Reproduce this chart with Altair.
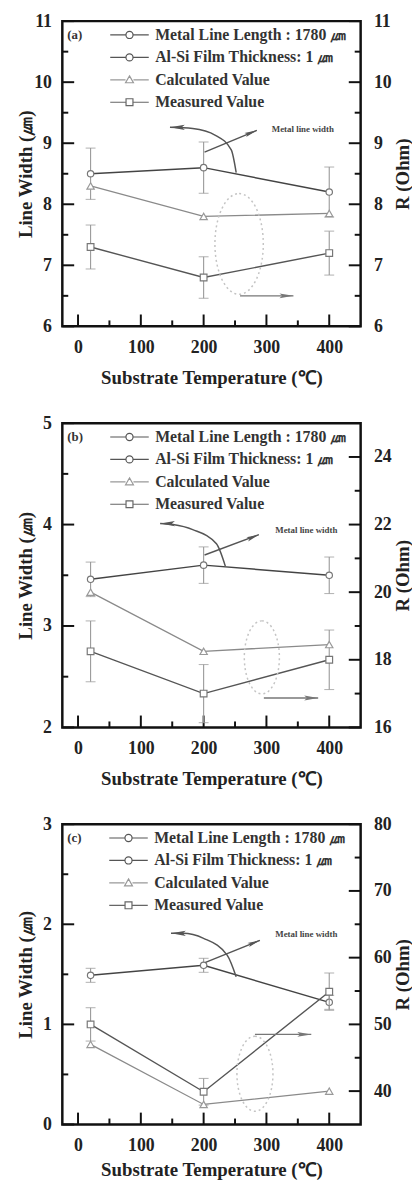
import altair as alt
import pandas as pd

# ---------------- data ----------------
temps = [20, 200, 400]

a_width = [8.5, 8.6, 8.2]
a_width_err = [0.42, 0.42, 0.41]
a_calc = [8.3, 7.8, 7.85]
a_meas = [7.3, 6.8, 7.2]
a_meas_err = [0.36, 0.34, 0.36]

b_width = [3.46, 3.6, 3.5]
b_width_err = [0.17, 0.18, 0.18]
b_calc = [20.0, 18.25, 18.45]
b_meas = [18.25, 17.0, 18.0]
b_meas_err = [0.9, 0.86, 0.88]

c_width = [1.49, 1.59, 1.22]
c_width_err = [0.07, 0.07, 0.07]
c_calc = [47.0, 38.0, 40.0]
c_meas = [50.0, 39.9, 54.9]
c_meas_err = [2.5, 2.0, 2.8]

legend_labels = ["Metal Line Length : 1780 ㎛", "Al-Si Film Thickness: 1 ㎛",
                 "Calculated Value", "Measured Value"]
panel_tags = ["(a)", "(b)", "(c)"]
note_text = "Metal line width"
x_title = "Substrate Temperature (℃)"
left_title = "Line Width (㎛)"
right_title = "R (Ohm)"

x_domain = [-25, 450]
x_major = [0, 100, 200, 300, 400]
x_minor = [50, 150, 250, 350]

a_left_domain = [6, 11]
a_left_major = [6, 7, 8, 9, 10, 11]
a_left_minor = [6.5, 7.5, 8.5, 9.5, 10.5]
a_right_domain = [6, 11]
a_right_major = [6, 7, 8, 9, 10, 11]
a_right_minor = [6.5, 7.5, 8.5, 9.5, 10.5]

b_left_domain = [2, 5]
b_left_major = [2, 3, 4, 5]
b_left_minor = [2.5, 3.5, 4.5]
b_right_domain = [16, 25]
b_right_major = [16, 18, 20, 22, 24]
b_right_minor = [17, 19, 21, 23]

c_left_domain = [0, 3]
c_left_major = [0, 1, 2, 3]
c_left_minor = [0.5, 1.5, 2.5]
c_right_domain = [35, 80]
c_right_major = [40, 50, 60, 70, 80]
c_right_minor = [45, 55, 65, 75]

# annotation positions (data units)
a_curve_x = [251.8, 244.0, 218.8, 182.6, 146.4]
a_curve_y = [8.52, 8.89, 9.13, 9.24, 9.26]
a_pointer = [201.5, 8.855, 284.8, 9.21]
a_note = [358, 9.24]
a_ellipse = [256.5, 7.35]
a_rarrow = [258, 343, 6.5]

b_curve_x = [234.5, 220.4, 182.6, 151.2, 130.7]
b_curve_y = [3.59, 3.81, 3.95, 4.0, 4.01]
b_pointer = [201.5, 3.70, 288, 3.90]
b_note = [363.5, 3.95]
b_ellipse = [292.7, 18.07]
b_rarrow = [295.9, 382.4, 16.87]

c_curve_x = [251.8, 237.7, 199.9, 166.9, 148.0]
c_curve_y = [1.476, 1.69, 1.86, 1.91, 1.91]
c_pointer = [203, 1.62, 289.6, 1.84]
c_note = [363.5, 1.90]
c_ellipse = [281.7, 42.6]
c_rarrow = [281.7, 371.4, 48.5]

# ---------------- styling ----------------
FONT = "Liberation Serif"
W = 302
ARROW = "M0,0L0.35,2L0,1.6L-0.35,2Z"
ELLIPSE = "M0,-1A0.48,1,0,1,1,0,1A0.48,1,0,1,1,0,-1Z"
legend_paths = [
    "M-1.95,0L-0.36,0M0.36,0L1.95,0M0.36,0A0.36,0.36,0,1,1,-0.36,0A0.36,0.36,0,1,1,0.36,0Z",
    "M-1.95,0L-0.36,0M0.36,0L1.95,0M0.36,0A0.36,0.36,0,1,1,-0.36,0A0.36,0.36,0,1,1,0.36,0Z",
    "M-1.95,0L-0.4,0M0.4,0L1.95,0M0,-0.4L0.4,0.3L-0.4,0.3Z",
    "M-1.95,0L-0.35,0M0.35,0L1.95,0M-0.35,-0.35L0.35,-0.35L0.35,0.35L-0.35,0.35Z",
]
legend_colors = ["#555555", "#555555", "#999999", "#666666"]


def build_panel(tag, H, ldom, lmaj, lmin, rdom, rmaj, rmin,
                wv, we, cv, mv, me, cx, cy, ptr, note, ell, ell_size, rar, xtpad):
    xs = alt.Scale(domain=x_domain, nice=False, zero=False)
    ls = alt.Scale(domain=ldom, nice=False, zero=False)
    rs = alt.Scale(domain=rdom, nice=False, zero=False)

    x_axis = alt.Axis(values=x_major, title=x_title, format="d", ticks=False,
                      domain=False, grid=False, labelPadding=12, titlePadding=xtpad,
                      labelFontSize=18, titleFontSize=19)
    left_axis = alt.Axis(values=lmaj, title=left_title, orient="left", format="d",
                         ticks=False, domain=False, grid=False, labelPadding=11,
                         minExtent=27, maxExtent=27, titlePadding=0,
                         labelFontSize=18, titleFontSize=19)
    right_axis = alt.Axis(values=rmaj, title=right_title, orient="right", format="d",
                          ticks=False, domain=False, grid=False, labelPadding=13,
                          minExtent=31, maxExtent=31, titlePadding=2,
                          titleAngle=270, titleBaseline="top",
                          labelFontSize=18, titleFontSize=19)

    def X(f):
        return alt.X(f, type="quantitative", scale=xs, axis=x_axis)

    def YL(f):
        return alt.Y(f, type="quantitative", scale=ls, axis=left_axis)

    def YR(f):
        return alt.Y(f, type="quantitative", scale=rs, axis=right_axis)

    # ---- left (line width) group ----
    lt1 = alt.Chart(pd.DataFrame({"v": lmaj})).mark_rule(color="#111", strokeWidth=2).encode(
        y=YL("v"), x=alt.value(0), x2=alt.value(12))
    lt2 = alt.Chart(pd.DataFrame({"v": lmin})).mark_rule(color="#111", strokeWidth=2).encode(
        y=YL("v"), x=alt.value(0), x2=alt.value(6))
    bt1 = alt.Chart(pd.DataFrame({"v": x_major})).mark_rule(color="#111", strokeWidth=2).encode(
        x=X("v"), y=alt.value(H), y2=alt.value(H - 12))
    bt2 = alt.Chart(pd.DataFrame({"v": x_minor})).mark_rule(color="#111", strokeWidth=2).encode(
        x=X("v"), y=alt.value(H), y2=alt.value(H - 6))

    dw = pd.DataFrame({"t": temps, "v": wv,
                       "lo": [v - e for v, e in zip(wv, we)],
                       "hi": [v + e for v, e in zip(wv, we)]})
    w_err = alt.Chart(dw).mark_rule(color="#999", strokeWidth=1.1).encode(
        x=X("t"), y=YL("lo"), y2="hi:Q")
    w_cap1 = alt.Chart(dw).mark_tick(orient="horizontal", size=10, thickness=1.1, color="#999").encode(
        x=X("t"), y=YL("lo"))
    w_cap2 = alt.Chart(dw).mark_tick(orient="horizontal", size=10, thickness=1.1, color="#999").encode(
        x=X("t"), y=YL("hi"))
    w_line = alt.Chart(dw).mark_line(color="#444", strokeWidth=1.5).encode(x=X("t"), y=YL("v"))
    w_pts = alt.Chart(dw).mark_point(shape="circle", size=42, filled=True, fill="white",
                                     stroke="#777", strokeWidth=1.2, opacity=1).encode(
        x=X("t"), y=YL("v"))

    dcurve = pd.DataFrame({"x": cx, "y": cy})
    curve = alt.Chart(dcurve).mark_line(color="#555", strokeWidth=1.5, interpolate="monotone").encode(
        x=X("x"), y=YL("y"))
    curve_head = alt.Chart(pd.DataFrame({"x": [cx[-1]], "y": [cy[-1]]})).mark_point(
        shape=ARROW, size=225, filled=True, color="#555", opacity=1, angle=270).encode(
        x=X("x"), y=YL("y"))
    dptr = pd.DataFrame({"x0": [ptr[0]], "y0": [ptr[1]], "x1": [ptr[2]], "y1": [ptr[3]]})
    pointer = alt.Chart(dptr).mark_rule(color="#555", strokeWidth=1.4).encode(
        x=X("x0"), y=YL("y0"), x2="x1:Q", y2="y1:Q")
    pointer_head = alt.Chart(dptr).mark_point(
        shape=ARROW, size=160, filled=True, color="#555", opacity=1, angle=68).encode(
        x=X("x1"), y=YL("y1"))
    note_mark = alt.Chart(pd.DataFrame({"x": [note[0]], "y": [note[1]], "s": [note_text]})).mark_text(
        font=FONT, fontWeight="bold", fontSize=9, color="#444").encode(
        x=X("x"), y=YL("y"), text="s:N")

    leg = alt.Legend(title=tag, orient="none", legendX=5, legendY=3, titleOrient="left",
                     titleAnchor="start", titleBaseline="line-top", titleLineHeight=23,
                     titleFont=FONT, titleFontSize=13, titleFontWeight="bold", titleColor="#333",
                     titlePadding=36, labelFont=FONT, labelFontSize=16, labelFontWeight="bold",
                     labelColor="#333", labelLimit=400, labelOffset=15, symbolSize=400,
                     symbolStrokeWidth=1.2, symbolFillColor="white", symbolOpacity=1,
                     rowPadding=3.7, padding=0)
    legend_layer = alt.Chart(pd.DataFrame({"entry": legend_labels})).mark_point(opacity=0).encode(
        shape=alt.Shape("entry:N", scale=alt.Scale(domain=legend_labels, range=legend_paths), legend=leg),
        stroke=alt.Stroke("entry:N", scale=alt.Scale(domain=legend_labels, range=legend_colors), legend=leg),
    )

    left_group = alt.layer(lt1, lt2, bt1, bt2, w_err, w_cap1, w_cap2, w_line, w_pts,
                           curve, curve_head, pointer, pointer_head, note_mark, legend_layer)

    # ---- right (resistance) group ----
    rt1 = alt.Chart(pd.DataFrame({"v": rmaj})).mark_rule(color="#111", strokeWidth=2).encode(
        y=YR("v"), x=alt.value(W), x2=alt.value(W - 12))
    rt2 = alt.Chart(pd.DataFrame({"v": rmin})).mark_rule(color="#111", strokeWidth=2).encode(
        y=YR("v"), x=alt.value(W), x2=alt.value(W - 6))

    dm = pd.DataFrame({"t": temps, "v": mv,
                       "lo": [v - e for v, e in zip(mv, me)],
                       "hi": [v + e for v, e in zip(mv, me)]})
    dc = pd.DataFrame({"t": temps, "v": cv})
    m_err = alt.Chart(dm).mark_rule(color="#999", strokeWidth=1.1).encode(
        x=X("t"), y=YR("lo"), y2="hi:Q")
    m_cap1 = alt.Chart(dm).mark_tick(orient="horizontal", size=10, thickness=1.1, color="#999").encode(
        x=X("t"), y=YR("lo"))
    m_cap2 = alt.Chart(dm).mark_tick(orient="horizontal", size=10, thickness=1.1, color="#999").encode(
        x=X("t"), y=YR("hi"))
    c_line = alt.Chart(dc).mark_line(color="#8a8a8a", strokeWidth=1.3).encode(x=X("t"), y=YR("v"))
    c_pts = alt.Chart(dc).mark_point(shape="triangle-up", size=55, filled=True, fill="white",
                                     stroke="#999", strokeWidth=1.2, opacity=1).encode(
        x=X("t"), y=YR("v"))
    m_line = alt.Chart(dm).mark_line(color="#555", strokeWidth=1.4).encode(x=X("t"), y=YR("v"))
    m_pts = alt.Chart(dm).mark_point(shape="square", size=46, filled=True, fill="white",
                                     stroke="#777", strokeWidth=1.2, opacity=1).encode(
        x=X("t"), y=YR("v"))

    ellipse = alt.Chart(pd.DataFrame({"x": [ell[0]], "y": [ell[1]]})).mark_point(
        shape=ELLIPSE, size=ell_size, filled=False, stroke="#c4c4c4", strokeWidth=1.5,
        strokeDash=[2, 3], opacity=1).encode(x=X("x"), y=YR("y"))
    drar = pd.DataFrame({"x0": [rar[0]], "x1": [rar[1]], "y": [rar[2]]})
    rarrow = alt.Chart(drar).mark_rule(color="#777", strokeWidth=1.4).encode(
        x=X("x0"), x2="x1:Q", y=YR("y"))
    rarrow_head = alt.Chart(drar).mark_point(
        shape=ARROW, size=200, filled=True, color="#777", opacity=1, angle=90).encode(
        x=X("x1"), y=YR("y"))

    right_group = alt.layer(rt1, rt2, m_err, m_cap1, m_cap2, c_line, m_line, c_pts, m_pts,
                            ellipse, rarrow, rarrow_head)

    return alt.layer(left_group, right_group).resolve_scale(y="independent").properties(
        width=W, height=H)


pa = build_panel(panel_tags[0], 309, a_left_domain, a_left_major, a_left_minor,
                 a_right_domain, a_right_major, a_right_minor,
                 a_width, a_width_err, a_calc, a_meas, a_meas_err,
                 a_curve_x, a_curve_y, a_pointer, a_note, a_ellipse, 10404, a_rarrow, 13)
pb = build_panel(panel_tags[1], 308, b_left_domain, b_left_major, b_left_minor,
                 b_right_domain, b_right_major, b_right_minor,
                 b_width, b_width_err, b_calc, b_meas, b_meas_err,
                 b_curve_x, b_curve_y, b_pointer, b_note, b_ellipse, 5476, b_rarrow, 13)
pc = build_panel(panel_tags[2], 304, c_left_domain, c_left_major, c_left_minor,
                 c_right_domain, c_right_major, c_right_minor,
                 c_width, c_width_err, c_calc, c_meas, c_meas_err,
                 c_curve_x, c_curve_y, c_pointer, c_note, c_ellipse, 5776, c_rarrow, 7)

chart = alt.vconcat(pa, pb, pc, spacing=98, bounds="flush").resolve_scale(
    shape="independent", stroke="independent"
).resolve_legend(
    shape="independent", stroke="independent"
).configure_view(
    stroke="#111", strokeWidth=2.5
).configure_axis(
    labelFont=FONT, labelFontWeight="bold", labelColor="#222",
    titleFont=FONT, titleFontWeight="bold", titleColor="#222"
).properties(
    autosize=alt.AutoSizeParams(type="none"),
    padding={"left": 55, "top": 6, "right": 52, "bottom": 1173},
    background="white"
)

chart.save("out.html", embed_options={"renderer": "svg", "actions": False})
